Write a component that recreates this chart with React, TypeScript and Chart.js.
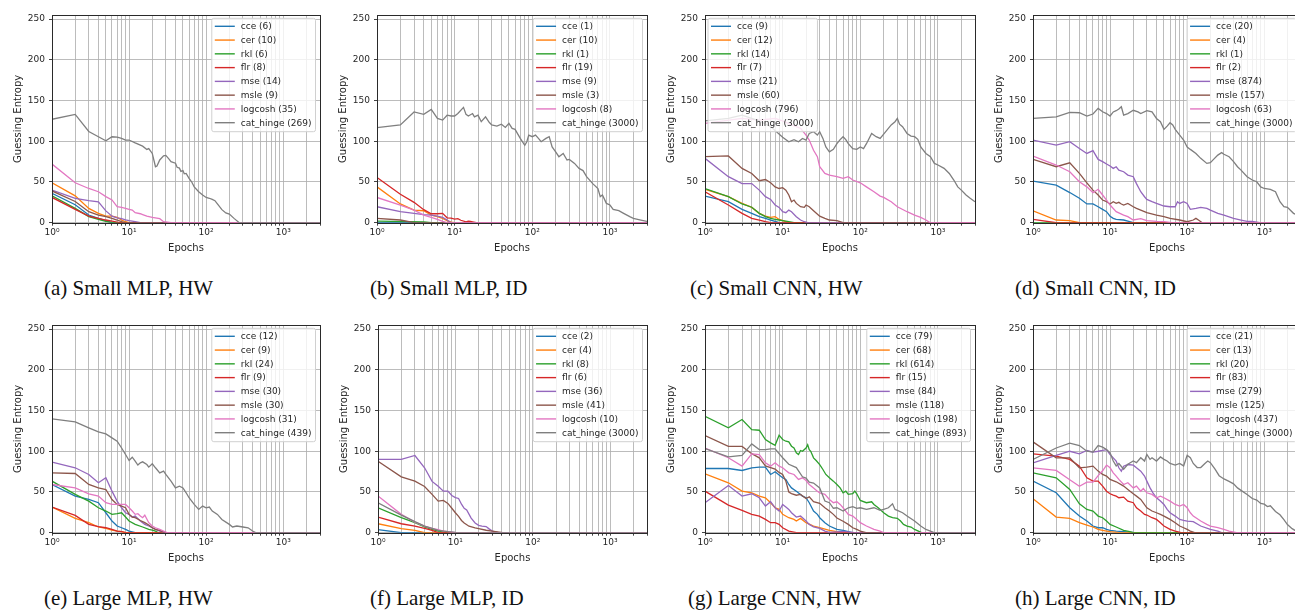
import React, { useEffect, useRef } from "react";
import { Chart, registerables } from "chart.js";
Chart.register(...registerables);
Chart.defaults.font.family = '"DejaVu Sans", sans-serif';

type Pt = [number, number];

const NAMES = ["cce", "cer", "rkl", "flr", "mse", "msle", "logcosh", "cat_hinge"];
const COLORS = ["#1f77b4", "#ff7f0e", "#2ca02c", "#d62728", "#9467bd", "#8c564b", "#e377c2", "#7f7f7f"];
const X_TICKS = [1, 2, 3, 4, 5, 6, 7, 8, 9, 10, 20, 30, 40, 50, 60, 70, 80, 90, 100, 200, 300, 400, 500, 600, 700, 800, 900, 1000, 2000, 3000];
const X_LABELS: Record<number, string> = { 1: "10\u2070", 10: "10\u00b9", 100: "10\u00b2", 1000: "10\u00b3" };
const Y_TICKS = [0, 50, 100, 150, 200, 250];

// ---------- (a) Small MLP, HW ----------
const A_NUMS = [6, 10, 6, 8, 14, 9, 35, 269];
const A_CCE: Pt[] = [[1, 36], [2, 22], [3, 9.4], [4, 5.3], [5, 2.5], [6, 0], [3000, 0]];
const A_CER: Pt[] = [[1, 49], [2, 33], [3, 17.6], [4, 11.5], [5, 8], [6, 8], [7, 6.5], [8, 3.3], [9, 1.2], [10, 0], [3000, 0]];
const A_RKL: Pt[] = [[1, 33], [2, 17.6], [3, 7.4], [4, 4], [5, 1.6], [6, 0], [3000, 0]];
const A_FLR: Pt[] = [[1, 31], [2, 16.4], [3, 8], [4, 5.3], [5, 3.3], [6, 2], [7, 0.8], [8, 0], [3000, 0]];
const A_MSE: Pt[] = [[1, 40], [2, 30], [3, 27], [4, 25.5], [5, 14.5], [6, 8], [7, 6], [8, 5], [9, 3.5], [10, 2.5], [12, 1.2], [14, 0], [3000, 0]];
const A_MSLE: Pt[] = [[1, 39], [2, 26], [3, 13.5], [4, 9.4], [5, 7.4], [6, 5.3], [7, 3.3], [8, 1.2], [9, 0], [3000, 0]];
const A_LOG: Pt[] = [[1, 72], [2, 49], [3, 42], [4, 38], [5, 32], [6, 28], [7, 19.6], [8, 18.8], [9, 17.6], [10, 16.4], [11, 15.5], [12, 12.3], [14, 11], [15, 10], [17, 8], [20, 6.5], [25, 5], [28, 1.2], [35, 0], [3000, 0]];
const A_CAT: Pt[] = [[1, 127], [2, 133], [3, 112], [4, 105.5], [5, 100.6], [6, 105.5], [7, 105], [8, 103.5], [9, 101.5], [10, 101.5], [12, 98], [15, 94], [17, 90], [18, 91], [20, 85], [22, 68.7], [23, 69.5], [25, 77], [28, 82], [30, 82.6], [33, 78], [35, 75], [40, 73], [42, 68], [45, 67], [47, 63], [50, 64], [52, 60], [55, 60.5], [60, 54.4], [65, 50], [70, 44], [80, 38], [90, 34], [100, 31], [110, 30], [120, 28.6], [130, 27], [140, 23], [160, 16], [180, 12], [200, 10.6], [230, 5.3], [269, 0], [3000, 0]];

// ---------- (b) Small MLP, ID ----------
const B_NUMS = [1, 10, 1, 19, 9, 3, 8, 3000];
const B_CCE: Pt[] = [[1, 0], [3000, 0]];
const B_CER: Pt[] = [[1, 44], [2, 23], [3, 15.5], [4, 14.7], [5, 9.4], [6, 7.4], [7, 5.3], [8, 2.5], [9, 0.8], [10, 0], [3000, 0]];
const B_RKL: Pt[] = [[1, 2], [4, 1], [5, 0], [3000, 0]];
const B_FLR: Pt[] = [[1, 55.6], [2, 35], [3, 25], [4, 16], [5, 11], [6, 11], [7, 11.5], [8, 6], [9, 5.5], [10, 4.5], [11, 5], [12, 3], [14, 1], [15, 2], [16, 1.6], [17, 1], [19, 0], [3000, 0]];
const B_MSE: Pt[] = [[1, 19.6], [2, 13.5], [3, 11.5], [4, 10], [5, 9.4], [6, 8], [7, 6.5], [8, 3.3], [9, 0], [3000, 0]];
const B_MSLE: Pt[] = [[1, 5.3], [2, 3.3], [3, 0], [3000, 0]];
const B_LOG: Pt[] = [[1, 31], [2, 21.7], [3, 15.5], [4, 9.4], [5, 6.5], [6, 4], [7, 1.6], [8, 0], [3000, 0]];
const B_CAT: Pt[] = [[1, 116.6], [2, 120], [3, 136], [4, 133], [5, 139], [6, 128], [7, 126], [8, 132], [9, 131], [10, 131], [11, 134], [13, 141.6], [14, 133], [15, 131], [17, 134], [18, 130], [20, 132], [22, 124], [25, 130], [28, 123], [30, 120], [35, 118.6], [40, 121], [45, 117], [50, 122], [55, 115.8], [60, 114.6], [70, 103.5], [80, 95], [85, 99.4], [90, 107.6], [100, 105.6], [110, 107.6], [120, 103.5], [130, 99.4], [150, 103.5], [165, 105.6], [180, 93], [200, 87], [220, 81], [250, 85], [280, 77], [300, 77.7], [350, 72.8], [400, 66.7], [450, 64], [500, 56.5], [600, 48], [700, 42], [750, 32], [800, 34], [900, 23.7], [1000, 21.7], [1100, 16.4], [1300, 14.7], [1500, 11.5], [1800, 7.4], [2000, 5.3], [2500, 3.3], [3000, 1.6]];

// ---------- (c) Small CNN, HW ----------
const C_NUMS = [9, 12, 14, 7, 21, 60, 796, 3000];
const C_CCE: Pt[] = [[1, 32.7], [2, 25.8], [3, 16.4], [4, 11.5], [5, 7.4], [6, 5.3], [7, 3.3], [8, 1.6], [9, 0], [3000, 0]];
const C_CER: Pt[] = [[1, 41], [2, 32], [3, 23.7], [4, 18.8], [5, 11.5], [6, 8], [7, 6.5], [8, 7.4], [9, 4], [10, 2.5], [12, 0], [3000, 0]];
const C_RKL: Pt[] = [[1, 42], [2, 32], [3, 23], [4, 19], [5, 11.5], [6, 7.4], [7, 5.3], [8, 4], [9, 3.3], [10, 2.5], [12, 1.2], [14, 0], [3000, 0]];
const C_FLR: Pt[] = [[1, 38], [2, 21.7], [3, 11.5], [4, 5.3], [5, 3.3], [6, 1.2], [7, 0], [3000, 0]];
const C_MSE: Pt[] = [[1, 79], [2, 56.5], [3, 48], [4, 48], [5, 40], [6, 32], [7, 28.6], [8, 21.7], [9, 18.8], [10, 13.5], [11, 12.3], [12, 15.5], [13, 13.5], [15, 7.4], [17, 3.3], [19, 1.2], [21, 0], [3000, 0]];
const C_MSLE: Pt[] = [[1, 81], [2, 82], [3, 66.7], [4, 60.5], [5, 51.5], [6, 53], [7, 49], [8, 44], [9, 42], [10, 43], [11, 40], [12, 34], [13, 25.8], [14, 27.8], [15, 23.7], [17, 19.6], [19, 18.8], [20, 21.7], [22, 19.6], [25, 14.7], [30, 8], [35, 5.3], [40, 3.3], [50, 2.5], [60, 0], [3000, 0]];
const C_LOG: Pt[] = [[1, 122], [3, 128], [5, 126], [8, 128], [10, 125], [13, 120], [15, 118], [17, 115.8], [20, 107.6], [22, 101.5], [25, 89], [28, 81], [30, 68.7], [35, 60.5], [40, 58.5], [50, 56.5], [60, 54.4], [70, 56.5], [80, 52.4], [100, 49], [120, 44], [150, 38], [180, 32.7], [200, 31], [250, 25.8], [300, 19.6], [400, 13.5], [500, 9.4], [600, 6.5], [700, 3.3], [796, 0], [3000, 0]];
const C_CAT: Pt[] = [[1, 125], [2, 128], [3, 132], [5, 125], [7, 118], [10, 105], [12, 99.4], [14, 102], [16, 99.4], [18, 103.5], [20, 101.5], [22, 109.6], [25, 111.7], [28, 107.6], [30, 111.7], [33, 103.5], [36, 93], [40, 87], [45, 90], [50, 97], [55, 102], [60, 105.6], [65, 102], [70, 97], [80, 91], [90, 90], [100, 93], [110, 91], [120, 97], [140, 109.6], [160, 105.6], [180, 103.5], [200, 108.8], [250, 120], [280, 124], [300, 128], [320, 121], [350, 117.8], [400, 109.6], [450, 106.4], [500, 105.6], [550, 102.3], [600, 93], [700, 85], [800, 81], [900, 72.8], [1000, 70.8], [1200, 66.7], [1400, 60.5], [1600, 52.4], [1800, 44], [2000, 40], [2300, 34], [2600, 30], [3000, 25.8]];

// ---------- (d) Small CNN, ID ----------
const D_NUMS = [20, 4, 1, 2, 874, 157, 63, 3000];
const D_CCE: Pt[] = [[1, 51], [2, 46], [3, 37], [4, 30], [5, 23], [6, 23], [7, 19.6], [8, 16.4], [9, 13.5], [10, 8], [11, 5.3], [12, 4], [15, 3.3], [17, 2], [20, 0], [3000, 0]];
const D_CER: Pt[] = [[1, 14.5], [2, 3.3], [3, 2.5], [4, 0], [3000, 0]];
const D_RKL: Pt[] = [[1, 0], [3000, 0]];
const D_FLR: Pt[] = [[1, 4], [2, 0], [3000, 0]];
const D_MSE: Pt[] = [[1, 101.5], [2, 95.3], [3, 99.4], [4, 91], [5, 85], [6, 88.4], [7, 77.7], [8, 75], [9, 72], [10, 69.6], [11, 66.7], [12, 68.7], [13, 64.6], [15, 62.6], [17, 58.5], [20, 56.5], [22, 48], [25, 38], [28, 31.9], [30, 28.6], [35, 25.8], [40, 23.7], [50, 20.5], [60, 19.6], [70, 19.6], [75, 25.8], [80, 23.7], [90, 25.8], [100, 23.7], [110, 16.4], [130, 17.6], [150, 18.8], [180, 17.6], [200, 15.5], [250, 11.5], [300, 9.4], [400, 5.3], [500, 3.3], [600, 1.6], [700, 1.6], [874, 0], [3000, 0]];
const D_MSLE: Pt[] = [[1, 77.7], [2, 68.7], [3, 73.6], [4, 60.5], [5, 49], [6, 40], [7, 34], [8, 27.8], [9, 25.8], [10, 23], [11, 25.8], [12, 23.7], [13, 25], [14, 23], [15, 21.7], [17, 23.7], [20, 19.6], [22, 17.6], [25, 15.5], [30, 12.3], [40, 9.4], [50, 7.4], [60, 5.3], [80, 3.3], [100, 1.2], [120, 3.3], [130, 5.3], [140, 3.3], [157, 0], [3000, 0]];
const D_LOG: Pt[] = [[1, 81.8], [2, 70.8], [3, 62.6], [4, 50.3], [5, 44], [6, 36.8], [7, 41], [8, 34], [9, 27.8], [10, 21.7], [12, 13.5], [15, 9.4], [17, 7.4], [20, 3.3], [25, 5], [30, 2.5], [40, 1.6], [50, 1.2], [63, 0], [3000, 0]];
const D_CAT: Pt[] = [[1, 128], [2, 130], [3, 135.4], [4, 135], [5, 131], [6, 133.4], [7, 140.3], [8, 136.2], [9, 134], [10, 131], [11, 136], [12, 137.5], [13, 139.5], [14, 142.4], [15, 132], [17, 134], [20, 138], [23, 136], [25, 134], [30, 137.5], [35, 136], [40, 128], [45, 124], [50, 114.6], [55, 118.6], [60, 122.7], [65, 120], [70, 114.6], [80, 107.6], [90, 101.5], [100, 93], [110, 90], [130, 85], [150, 79], [180, 72.8], [200, 73.6], [220, 77.7], [250, 83], [280, 86], [300, 84], [350, 81], [400, 75], [450, 68.7], [500, 64.6], [600, 56.5], [700, 52.4], [800, 50.3], [900, 44], [1000, 42], [1200, 41], [1400, 38], [1600, 25.8], [1800, 19.6], [2000, 18.8], [2400, 11.5], [3000, 7.4]];

// ---------- (e) Large MLP, HW ----------
const E_NUMS = [12, 9, 24, 9, 30, 30, 31, 439];
const E_CCE: Pt[] = [[1, 59.2], [2, 45], [3, 40.8], [4, 36.8], [5, 24.5], [6, 14.3], [7, 8.2], [8, 6.1], [9, 4], [10, 2], [12, 0], [3000, 0]];
const E_CER: Pt[] = [[1, 31.5], [2, 17.6], [3, 12.3], [4, 7], [5, 5.3], [6, 3.3], [7, 2], [8, 1.2], [9, 0], [3000, 0]];
const E_RKL: Pt[] = [[1, 63.3], [2, 47], [3, 38.8], [4, 30.6], [5, 26.6], [6, 22.5], [7, 23.3], [8, 24.5], [9, 19.2], [10, 14.3], [12, 10.2], [15, 7], [18, 4], [20, 3.3], [22, 2], [24, 0], [3000, 0]];
const E_FLR: Pt[] = [[1, 31.5], [2, 21.2], [3, 10.2], [4, 7.4], [5, 6.1], [6, 4], [7, 2], [8, 1.2], [9, 0], [3000, 0]];
const E_MSE: Pt[] = [[1, 86.6], [2, 79.7], [3, 71.5], [4, 61.3], [5, 67.4], [6, 51], [7, 38.8], [8, 30.6], [9, 24.5], [10, 22.5], [11, 19.2], [12, 20.4], [14, 14.3], [16, 10.2], [18, 8.2], [20, 6.1], [22, 4], [25, 2], [30, 0], [3000, 0]];
const E_MSLE: Pt[] = [[1, 73.5], [2, 72.7], [3, 59.2], [4, 55], [5, 53], [6, 40.8], [7, 34.7], [8, 32.7], [9, 30.6], [10, 22.5], [11, 19.2], [12, 18.4], [14, 15], [16, 12.3], [18, 9.4], [20, 6.1], [22, 4], [25, 2.9], [30, 0], [3000, 0]];
const E_LOG: Pt[] = [[1, 59.2], [2, 55], [3, 47.8], [4, 45], [5, 36.8], [6, 34.7], [7, 34.7], [8, 34.7], [9, 34.7], [10, 30.6], [11, 26.6], [12, 22.5], [13, 23.3], [14, 20.4], [15, 18.4], [16, 21.6], [18, 12.3], [20, 8.2], [22, 6.1], [25, 4], [28, 2], [31, 0], [3000, 0]];
const E_CAT: Pt[] = [[1, 139.7], [2, 136], [3, 128.7], [4, 123.8], [5, 121.3], [6, 116.4], [7, 112.3], [8, 104], [9, 96], [10, 88.6], [11, 92.7], [12, 87.8], [13, 83], [14, 85.8], [15, 87], [17, 83.7], [18, 80.5], [20, 84.6], [22, 79.7], [25, 73.5], [28, 75.6], [30, 71.5], [35, 63.3], [40, 55], [45, 57], [50, 55], [55, 49], [60, 42.9], [70, 34.7], [80, 28.6], [90, 32.7], [100, 30.6], [110, 31.5], [120, 26.6], [140, 22.5], [160, 16.3], [200, 10.2], [220, 7], [250, 8.2], [300, 7], [350, 6], [400, 2], [439, 0], [3000, 0]];

// ---------- (f) Large MLP, ID ----------
const F_NUMS = [2, 4, 8, 6, 36, 41, 10, 3000];
const F_CCE: Pt[] = [[1, 3.7], [2, 0], [3000, 0]];
const F_CER: Pt[] = [[1, 11], [2, 4.9], [3, 2.9], [4, 0], [3000, 0]];
const F_RKL: Pt[] = [[1, 30.6], [2, 18.4], [3, 12.3], [4, 7], [5, 4], [6, 2], [7, 1.2], [8, 0], [3000, 0]];
const F_FLR: Pt[] = [[1, 19.2], [2, 11], [3, 8.2], [4, 5.3], [5, 2.9], [6, 0], [3000, 0]];
const F_MSE: Pt[] = [[1, 90], [2, 90], [3, 94.8], [4, 79.7], [5, 63], [6, 57], [7, 51], [8, 51], [9, 45.7], [10, 43], [11, 42], [12, 35], [13, 30], [14, 28], [16, 18], [18, 12], [20, 9], [22, 8], [25, 7.5], [27, 5], [30, 2], [36, 0], [3000, 0]];
const F_MSLE: Pt[] = [[1, 87.8], [2, 68.6], [3, 63.3], [4, 56.8], [5, 47], [6, 38.8], [7, 39.6], [8, 36], [9, 30], [10, 24.5], [11, 20], [12, 15], [13, 12], [15, 8], [18, 6], [20, 5], [25, 3], [30, 2], [41, 0], [3000, 0]];
const F_LOG: Pt[] = [[1, 45], [2, 22.5], [3, 13], [4, 8.2], [5, 5.3], [6, 3.7], [7, 2], [8, 1.2], [10, 0], [3000, 0]];
const F_CAT: Pt[] = [[1, 36.8], [2, 21.6], [3, 13.5], [4, 8.2], [5, 5.3], [6, 2.9], [8, 1.2], [10, 0.5], [20, 0], [3000, 0]];

// ---------- (g) Large CNN, HW ----------
const G_NUMS = [79, 68, 614, 15, 84, 118, 198, 893];
const G_CCE: Pt[] = [[1, 78.8], [2, 78.8], [3, 76.4], [4, 79.7], [5, 80.5], [6, 80.5], [7, 71.5], [8, 74.8], [9, 70.7], [10, 67.4], [11, 65.4], [12, 59.2], [13, 55], [15, 51], [17, 47], [18, 44.9], [20, 42.9], [22, 36.8], [25, 26.6], [28, 22.5], [30, 18.4], [35, 12.3], [40, 8.2], [50, 4], [60, 2.9], [70, 1.2], [79, 0], [3000, 0]];
const G_CER: Pt[] = [[1, 72.3], [2, 61.3], [3, 51], [4, 49], [5, 44.9], [6, 42.9], [7, 36.8], [8, 30.6], [9, 28.6], [10, 22.5], [12, 18.4], [14, 16.3], [15, 14.3], [17, 17.6], [20, 12.3], [25, 8.2], [30, 6.1], [40, 2.9], [50, 1.2], [68, 0], [3000, 0]];
const G_RKL: Pt[] = [[1, 143], [2, 128.7], [3, 138.9], [4, 126.6], [5, 125.8], [6, 114.4], [7, 110.3], [8, 107.4], [9, 119.7], [10, 114.4], [11, 112.3], [12, 111.5], [13, 106.2], [14, 104], [15, 98], [16, 95.9], [17, 100.9], [18, 100], [20, 104], [21, 108], [22, 102], [23, 100], [25, 91.9], [27, 88.6], [30, 83.7], [33, 77.6], [36, 71.5], [40, 67.4], [45, 63.3], [50, 59.2], [55, 55], [60, 49], [65, 51], [70, 47], [80, 47.8], [85, 51], [90, 47.8], [100, 39.6], [120, 36.8], [140, 38], [150, 34.7], [170, 30.6], [200, 24.5], [230, 20.4], [260, 18.4], [300, 17.6], [330, 14.3], [360, 10.2], [400, 8.2], [450, 7], [500, 4], [560, 2], [614, 0], [3000, 0]];
const G_FLR: Pt[] = [[1, 51], [2, 33.9], [3, 27.4], [4, 22.5], [5, 20.4], [6, 16.3], [7, 12.3], [8, 12.3], [9, 10.2], [10, 6.1], [12, 2], [15, 0], [3000, 0]];
const G_MSE: Pt[] = [[1, 36.8], [2, 58], [3, 44.9], [4, 47.8], [5, 42.9], [6, 32.7], [7, 38], [8, 30.6], [9, 26.6], [10, 34.7], [11, 31.5], [12, 28.6], [13, 24.5], [15, 19.2], [17, 20.4], [20, 14.3], [22, 10.2], [25, 7], [30, 5.3], [35, 2], [40, 0.5], [50, 1], [60, 1.5], [84, 0], [3000, 0]];
const G_MSLE: Pt[] = [[1, 119.3], [2, 106], [3, 106], [4, 97], [5, 91.9], [6, 82], [7, 80], [8, 78], [9, 74], [10, 71.5], [11, 63.3], [12, 50], [13, 48], [15, 46], [17, 47], [20, 42], [22, 44], [25, 38], [30, 36], [35, 30.6], [40, 26.6], [45, 22.5], [50, 18], [60, 14], [70, 10.2], [80, 6.1], [90, 4], [100, 2], [118, 0], [3000, 0]];
const G_LOG: Pt[] = [[1, 104], [2, 92], [3, 81.7], [4, 96.8], [5, 96], [6, 85.8], [7, 81.7], [8, 85.8], [9, 81.7], [10, 79.7], [11, 76.4], [12, 73.5], [14, 71.5], [16, 65.4], [18, 67.4], [20, 64.1], [22, 59.2], [25, 55], [28, 51], [30, 49], [35, 47], [40, 40.8], [45, 36.8], [50, 38], [55, 34.7], [60, 30.6], [70, 22.5], [80, 20.4], [90, 16.3], [100, 12.3], [120, 8.2], [150, 4], [180, 2], [198, 0], [3000, 0]];
const G_CAT: Pt[] = [[1, 103.3], [2, 93], [3, 95], [4, 109], [5, 102], [6, 102], [7, 103], [8, 103], [9, 97], [10, 92], [12, 84], [15, 80], [18, 68.6], [20, 67], [22, 62], [25, 61], [30, 55], [35, 38.8], [40, 36.8], [45, 30], [50, 30.6], [60, 26.6], [70, 30.6], [80, 31.9], [90, 29.8], [100, 30.6], [120, 28.6], [150, 30.6], [180, 27.4], [200, 28.6], [230, 30.6], [260, 35.5], [280, 28.6], [300, 27.4], [350, 24.5], [400, 20.4], [500, 14.3], [600, 8.2], [700, 4], [800, 2], [893, 0], [3000, 0]];

// ---------- (h) Large CNN, ID ----------
const H_NUMS = [21, 13, 20, 83, 279, 125, 437, 3000];
const H_CCE: Pt[] = [[1, 63.3], [2, 49], [3, 30.6], [4, 20.4], [5, 14.3], [6, 8.2], [7, 6.1], [8, 6.1], [9, 4], [10, 2.9], [12, 2], [15, 1.2], [21, 0], [3000, 0]];
const H_CER: Pt[] = [[1, 41.7], [2, 19.2], [3, 17.6], [4, 12.3], [5, 9.4], [6, 7], [7, 4], [8, 2.9], [9, 2], [10, 1.2], [13, 0], [3000, 0]];
const H_RKL: Pt[] = [[1, 73.5], [2, 67.4], [3, 53.1], [4, 35.5], [5, 28.6], [6, 26.6], [7, 20.4], [8, 18.4], [9, 14.3], [10, 10.2], [12, 7], [15, 2.9], [18, 1.2], [20, 0], [3000, 0]];
const H_FLR: Pt[] = [[1, 96.8], [2, 94], [3, 89.9], [4, 81.7], [5, 67.4], [6, 63.3], [7, 63.3], [8, 57.2], [9, 51], [10, 47.8], [11, 46.2], [12, 44.9], [13, 42.9], [15, 43.7], [17, 38.8], [20, 36.8], [22, 30.6], [25, 26.6], [28, 22.5], [30, 21.7], [35, 18.4], [40, 16.3], [45, 12.3], [50, 8.2], [60, 4], [70, 2], [83, 0], [3000, 0]];
const H_MSE: Pt[] = [[1, 85.8], [2, 95], [3, 100], [4, 96.8], [5, 100.9], [6, 99], [7, 100], [8, 101], [9, 102], [10, 96], [11, 91.9], [12, 87.8], [13, 79.7], [14, 75.6], [15, 81.7], [17, 83.7], [20, 82.9], [22, 79.7], [25, 75.6], [28, 69.5], [30, 63.3], [33, 55], [36, 49], [40, 42.9], [45, 38.8], [50, 34.7], [55, 28.6], [60, 24.5], [70, 20.4], [80, 16.3], [90, 15], [100, 14.3], [120, 13.5], [150, 8.2], [200, 4], [250, 2], [279, 0], [3000, 0]];
const H_MSLE: Pt[] = [[1, 111.5], [2, 91.9], [3, 91.9], [4, 79.7], [5, 80.5], [6, 81.7], [7, 75.6], [8, 71.5], [9, 69.5], [10, 65.4], [12, 62.5], [15, 57.2], [17, 53.1], [20, 47.8], [22, 44.9], [25, 40.8], [30, 30.6], [35, 26.6], [40, 24.5], [45, 22.5], [50, 20.4], [60, 16.3], [70, 12.3], [80, 8.2], [90, 6.1], [100, 4], [110, 2], [125, 0], [3000, 0]];
const H_LOG: Pt[] = [[1, 79.7], [2, 76.4], [3, 65], [4, 57], [5, 62], [6, 62], [7, 70], [8, 76], [9, 83], [10, 79.7], [11, 73.5], [12, 69.5], [13, 65.4], [15, 59.2], [17, 61.3], [20, 55], [22, 57.2], [25, 51], [27, 54.3], [30, 49], [35, 47], [40, 42.9], [45, 44.9], [50, 42.9], [60, 38.8], [70, 34.7], [80, 32.7], [90, 34.7], [100, 30.6], [110, 24.5], [120, 20.4], [150, 14.3], [180, 10.2], [200, 8.2], [250, 6.1], [300, 4], [350, 2], [437, 0], [3000, 0]];
const H_CAT: Pt[] = [[1, 90], [2, 104], [3, 110], [4, 107], [5, 100], [6, 99], [7, 107], [8, 105], [9, 102], [10, 98], [11, 88], [12, 82], [13, 85], [15, 78], [17, 84], [20, 88], [22, 86], [25, 92], [28, 88], [30, 96], [33, 90], [35, 92], [40, 88], [45, 93], [50, 90], [55, 88], [60, 85], [70, 83], [80, 85], [90, 82], [100, 95], [110, 92], [120, 85], [135, 80], [150, 80], [170, 85], [185, 88], [200, 86], [230, 78], [260, 70], [300, 66], [350, 63], [400, 60], [450, 55], [500, 52], [600, 47], [700, 42], [800, 40], [900, 36], [1000, 35], [1100, 32], [1200, 33], [1400, 26], [1600, 22], [1800, 16], [2000, 10], [2300, 5], [2600, 2], [3000, 1]];

type PanelCfg = {
  caption: string;
  nums: number[];
  series: Pt[][];
  legend: "ur" | "ul";
  plotLeft: number;
  plotRight: number;
  top: number;
  capLeft: number;
  capTop: number;
};

const PANELS: PanelCfg[] = [
  { caption: "(a) Small MLP, HW", nums: A_NUMS, series: [A_CCE, A_CER, A_RKL, A_FLR, A_MSE, A_MSLE, A_LOG, A_CAT], legend: "ur", plotLeft: 52, plotRight: 320, top: 0, capLeft: 44, capTop: 276 },
  { caption: "(b) Small MLP, ID", nums: B_NUMS, series: [B_CCE, B_CER, B_RKL, B_FLR, B_MSE, B_MSLE, B_LOG, B_CAT], legend: "ur", plotLeft: 377, plotRight: 647, top: 0, capLeft: 370, capTop: 276 },
  { caption: "(c) Small CNN, HW", nums: C_NUMS, series: [C_CCE, C_CER, C_RKL, C_FLR, C_MSE, C_MSLE, C_LOG, C_CAT], legend: "ul", plotLeft: 705, plotRight: 975, top: 0, capLeft: 690, capTop: 276 },
  { caption: "(d) Small CNN, ID", nums: D_NUMS, series: [D_CCE, D_CER, D_RKL, D_FLR, D_MSE, D_MSLE, D_LOG, D_CAT], legend: "ur", plotLeft: 1033, plotRight: 1301, top: 0, capLeft: 1015, capTop: 276 },
  { caption: "(e) Large MLP, HW", nums: E_NUMS, series: [E_CCE, E_CER, E_RKL, E_FLR, E_MSE, E_MSLE, E_LOG, E_CAT], legend: "ur", plotLeft: 52, plotRight: 320, top: 310, capLeft: 44, capTop: 586 },
  { caption: "(f) Large MLP, ID", nums: F_NUMS, series: [F_CCE, F_CER, F_RKL, F_FLR, F_MSE, F_MSLE, F_LOG, F_CAT], legend: "ur", plotLeft: 378, plotRight: 647, top: 310, capLeft: 370, capTop: 586 },
  { caption: "(g) Large CNN, HW", nums: G_NUMS, series: [G_CCE, G_CER, G_RKL, G_FLR, G_MSE, G_MSLE, G_LOG, G_CAT], legend: "ur", plotLeft: 705, plotRight: 975, top: 310, capLeft: 688, capTop: 586 },
  { caption: "(h) Large CNN, ID", nums: H_NUMS, series: [H_CCE, H_CER, H_RKL, H_FLR, H_MSE, H_MSLE, H_LOG, H_CAT], legend: "ur", plotLeft: 1033, plotRight: 1301, top: 310, capLeft: 1015, capTop: 586 },
];

const Y_AXIS_W = 52;
const CANVAS_H = 262;
const X_AXIS_H = 39.3;
const PAD_TOP = 15;
const PAD_RIGHT = 4;
const GRID = "rgba(176,176,176,0.85)";
const TEXT = "#262626";

const mplPlugin = {
  id: "mplFrame",
  afterDatasetsDraw(chart: any, _args: any, opts: any) {
    const { ctx, chartArea } = chart;
    const { left, top, right, bottom } = chartArea;
    ctx.save();
    ctx.strokeStyle = "#2a2a2a";
    ctx.lineWidth = 1;
    ctx.strokeRect(Math.round(left) + 0.5, Math.round(top) + 0.5, Math.round(right) - Math.round(left), Math.round(bottom) - Math.round(top));
    const fs = 9;
    ctx.font = `${fs}px "DejaVu Sans"`;
    const labels: string[] = chart.data.datasets.map((d: any) => d.label);
    const tw = Math.max(...labels.map((l) => ctx.measureText(l).width));
    const pad = 3, handle = 20, gap = 6, rowH = 13.77;
    const boxW = pad + handle + gap + tw + 4;
    const boxH = 8 + rowH * (labels.length - 1) + 9;
    const bx = opts.pos === "ul" ? left + 3 : right - 4.5 - boxW;
    const by = top + 3.3;
    const r = 2;
    ctx.beginPath();
    ctx.moveTo(bx + r, by);
    ctx.lineTo(bx + boxW - r, by);
    ctx.arcTo(bx + boxW, by, bx + boxW, by + r, r);
    ctx.lineTo(bx + boxW, by + boxH - r);
    ctx.arcTo(bx + boxW, by + boxH, bx + boxW - r, by + boxH, r);
    ctx.lineTo(bx + r, by + boxH);
    ctx.arcTo(bx, by + boxH, bx, by + boxH - r, r);
    ctx.lineTo(bx, by + r);
    ctx.arcTo(bx, by, bx + r, by, r);
    ctx.closePath();
    ctx.fillStyle = "rgba(255,255,255,0.8)";
    ctx.fill();
    ctx.strokeStyle = "#d0d0d0";
    ctx.lineWidth = 1;
    ctx.stroke();
    ctx.textBaseline = "middle";
    ctx.textAlign = "left";
    labels.forEach((l, i) => {
      const cy = by + 8 + i * rowH;
      ctx.strokeStyle = COLORS[i];
      ctx.lineWidth = 1.4;
      ctx.beginPath();
      ctx.moveTo(bx + pad, cy);
      ctx.lineTo(bx + pad + handle, cy);
      ctx.stroke();
      ctx.fillStyle = TEXT;
      ctx.fillText(l, bx + pad + handle + gap, cy + 0.5);
    });
    ctx.restore();
  },
};

function Panel({ cfg }: { cfg: PanelCfg }) {
  const ref = useRef<HTMLCanvasElement>(null);
  const canvasLeft = cfg.plotLeft - Y_AXIS_W;
  const canvasW = cfg.plotRight - cfg.plotLeft + Y_AXIS_W + PAD_RIGHT;
  useEffect(() => {
    const chart = new Chart(ref.current as HTMLCanvasElement, {
      type: "line",
      data: {
        datasets: cfg.series.map((s, i) => ({
          label: `${NAMES[i]} (${cfg.nums[i]})`,
          data: s.map(([x, y]) => ({ x, y })),
          borderColor: COLORS[i],
          backgroundColor: COLORS[i],
          borderWidth: 1.3,
          pointRadius: 0,
          tension: 0,
          fill: false,
          order: NAMES.length - i,
        })),
      },
      options: {
        animation: false,
        responsive: false,
        maintainAspectRatio: false,
        events: [],
        layout: { padding: { top: PAD_TOP, right: PAD_RIGHT, left: 0, bottom: 0 } },
        plugins: {
          legend: { display: false },
          tooltip: { enabled: false },
          mplFrame: { pos: cfg.legend },
        } as any,
        scales: {
          x: {
            type: "logarithmic",
            min: 1,
            max: 3000,
            afterBuildTicks: (s: any) => {
              s.ticks = X_TICKS.map((v) => ({ value: v }));
            },
            afterFit: (s: any) => {
              s.height = X_AXIS_H;
            },
            ticks: {
              autoSkip: false,
              maxRotation: 0,
              minRotation: 0,
              padding: 2,
              color: TEXT,
              font: { size: 9 },
              callback: (v: any) => X_LABELS[Number(v)] ?? "",
            },
            grid: { color: GRID, lineWidth: 1, tickLength: 3, tickColor: "#444" },
            border: { display: false },
            title: { display: true, text: "Epochs", color: TEXT, font: { size: 10 }, padding: { top: 0, bottom: 8 } },
          },
          y: {
            min: 0,
            max: 255,
            afterBuildTicks: (s: any) => {
              s.ticks = Y_TICKS.map((v) => ({ value: v }));
            },
            afterFit: (s: any) => {
              s.width = Y_AXIS_W;
            },
            ticks: { padding: 4, color: TEXT, font: { size: 9 } },
            grid: { color: GRID, lineWidth: 1, tickLength: 3, tickColor: "#444" },
            border: { display: false },
            title: { display: true, text: "Guessing Entropy", color: TEXT, font: { size: 10 }, padding: { top: 12, bottom: 0 } },
          },
        },
      } as any,
      plugins: [mplPlugin],
    });
    return () => chart.destroy();
  }, []);
  return (
    <canvas
      ref={ref}
      width={canvasW}
      height={CANVAS_H}
      style={{ position: "absolute", left: canvasLeft, top: cfg.top, width: canvasW, height: CANVAS_H }}
    />
  );
}

export default function App() {
  return (
    <div style={{ position: "fixed", left: 0, top: 0, width: 1295, height: 615, overflow: "hidden", background: "#fff" }}>
      {PANELS.map((p, i) => (
        <Panel key={i} cfg={p} />
      ))}
      {PANELS.map((p, i) => (
        <div
          key={"c" + i}
          style={{
            position: "absolute",
            left: p.capLeft,
            top: p.capTop,
            fontFamily: '"Liberation Serif", serif',
            fontSize: 21,
            lineHeight: "24px",
            whiteSpace: "nowrap",
            color: "#111",
          }}
        >
          {p.caption}
        </div>
      ))}
    </div>
  );
}
